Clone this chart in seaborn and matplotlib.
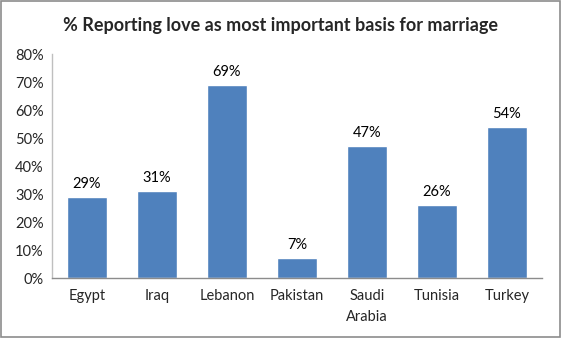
import matplotlib
matplotlib.use("Agg")
import matplotlib.pyplot as plt
import seaborn as sns
import pandas as pd
from matplotlib.patches import Rectangle

countries = ["Egypt", "Iraq", "Lebanon", "Pakistan", "Saudi\nArabia", "Tunisia", "Turkey"]
love_pct = [29, 31, 69, 7, 47, 26, 54]
y_ticks = [0, 10, 20, 30, 40, 50, 60, 70, 80]
title = "% Reporting love as most important basis for marriage"

sns.set_theme(style="white")
plt.rcParams["font.family"] = ["Lato", "DejaVu Sans"]

df = pd.DataFrame({"country": countries, "pct": love_pct})

fig = plt.figure(figsize=(5.61, 3.38), dpi=100)
ax = fig.add_axes([0.0927, 0.1775, 0.8733, 0.6625])

sns.barplot(data=df, x="country", y="pct", color="#4F81BD", saturation=1,
            width=0.57, ax=ax)

for i, v in enumerate(love_pct):
    ax.text(i, v + 2.2, f"{v}%", ha="center", va="bottom", fontsize=10.5, color="#000000")

ax.set_xlim(-0.5, 6.5)
ax.set_ylim(0, 80)
ax.set_yticks(y_ticks)
ax.set_yticklabels([f"{t}%" for t in y_ticks], fontsize=10.5)
ax.tick_params(axis="x", labelsize=10.5, pad=8, length=0)
ax.tick_params(axis="y", pad=6, length=0)
for lbl in ax.get_xticklabels():
    lbl.set_linespacing(1.6)
ax.set_xlabel("")
ax.set_ylabel("")

for s in ["top", "right"]:
    ax.spines[s].set_visible(False)
ax.spines["left"].set_color("#BFBFBF")
ax.spines["bottom"].set_color("#8C8C8C")
ax.spines["left"].set_linewidth(1)
ax.spines["bottom"].set_linewidth(1)

fig.text(0.5, 0.925, title, ha="center", va="center", fontsize=13, fontweight="bold")

fig.patches.append(Rectangle((0.001, 0.002), 0.997, 0.995, transform=fig.transFigure,
                             fill=False, edgecolor="#8C8C8C", linewidth=1.2))

fig.savefig("out.png", dpi=100)
